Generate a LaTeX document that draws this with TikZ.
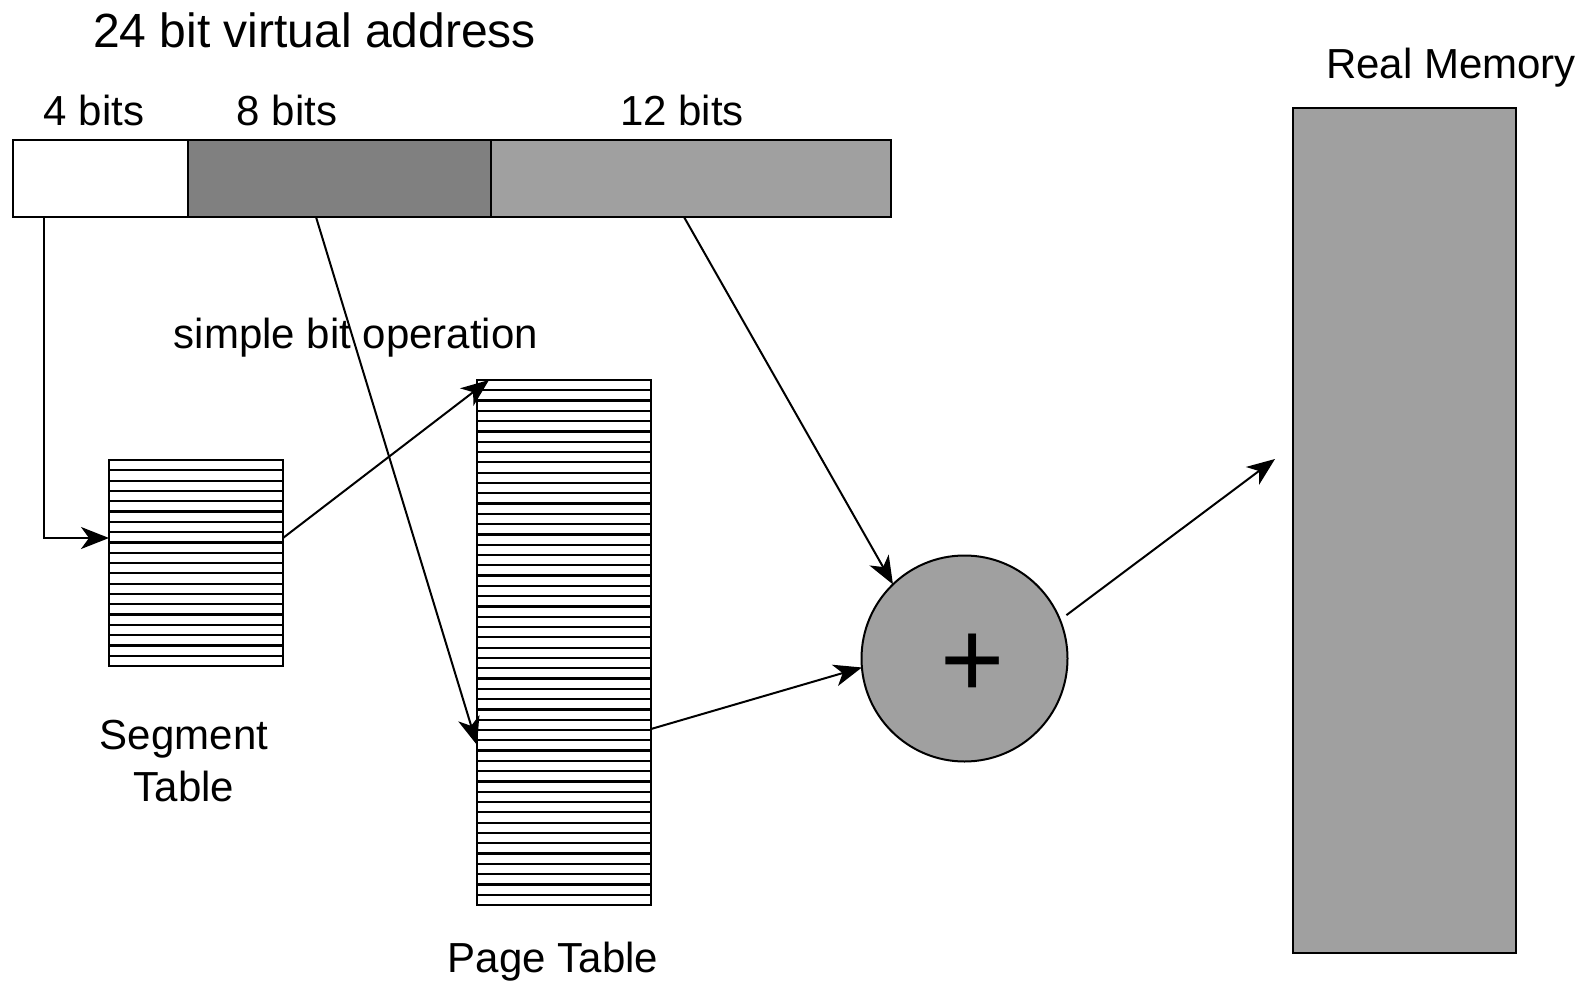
\documentclass[tikz,border=0pt]{standalone}
\usepackage{fontspec}
\setmainfont{Liberation Sans}
\usetikzlibrary{calc,arrows.meta}
\definecolor{darkfill}{RGB}{128,128,128}
\definecolor{lightfill}{RGB}{160,160,160}
\tikzset{
  box/.style={draw=black, line width=1.3pt, rectangle, inner sep=0pt, outer sep=0pt, anchor=north west},
  stripe/.style={line width=1.1pt},
  conn/.style={line width=1pt, -{Stealth[length=14pt, width=11pt, inset=4pt]}},
  lbl/.style={inner sep=0pt, outer sep=0pt, font=\fontsize{21}{25}\selectfont},
}
\begin{document}
\begin{tikzpicture}[x=0.5pt, y=-0.5pt]
\useasboundingbox (0,0) rectangle (1583,984);
% address fields
\node[box, fill=white, minimum width=87.5pt, minimum height=38.5pt] (addr4) at (13,140) {};
\node[box, fill=darkfill, minimum width=151.5pt, minimum height=38.5pt] (addr8) at (188,140) {};
\node[box, fill=lightfill, minimum width=200pt, minimum height=38.5pt] (addr12) at (491,140) {};
% tables
\node[box, fill=white, minimum width=87pt, minimum height=103pt] (seg) at (109,460) {};
\node[box, fill=white, minimum width=87pt, minimum height=262.5pt] (page) at (477,380) {};
\foreach \i in {1,...,19}
  \draw[stripe] ($(seg.north west)!\i/20!(seg.south west)$) -- ($(seg.north east)!\i/20!(seg.south east)$);
\foreach \i in {1,...,50}
  \draw[stripe] ($(page.north west)!\i/51!(page.south west)$) -- ($(page.north east)!\i/51!(page.south east)$);
% adder and memory
\node[circle, draw=black, line width=1pt, fill=lightfill, minimum size=103pt, inner sep=0pt, outer sep=0pt] (adder) at (964.5,658.5) {};
\node[inner sep=0pt, font=\fontsize{55}{60}\selectfont] (plus) at (973,666) {+};
\node[box, fill=lightfill, minimum width=111.5pt, minimum height=422.5pt] (mem) at (1293,108) {};
\coordinate (memin) at ($(mem.north west)+(-18,351)$);
% labels
\node[lbl, font=\fontsize{24}{28}\selectfont, anchor=base west] (title) at (93,47.5) {24 bit virtual address};
\node[lbl, anchor=base] (l4) at (94,126) {4 bits};
\node[lbl, anchor=base] (l8) at (287,126) {8 bits};
\node[lbl, anchor=base] (l12) at (682,126) {12 bits};
\node[lbl, anchor=base] (lmem) at (1451,79) {Real Memory};
\node[lbl, anchor=base] (lop) at (356,348) {simple bit operation};
\node[lbl, align=center] (lseg) at (184,761.5) {Segment\\[1pt]Table};
\node[lbl, anchor=base] (lpage) at (553,972) {Page Table};
% connectors
\draw[conn] ($(addr4.south west)+(31,0)$) |- ($(seg.north west)+(0,78)$);
\draw[conn] ($(seg.north east)+(0,78)$) -- ($(page.north west)+(12,0)$);
\draw[conn] ($(addr8.south west)+(128,0)$) -- ($(page.north west)+(0,365)$);
\draw[conn] ($(addr12.south west)+(193,0)$) -- (adder.134);
\draw[conn] ($(page.north east)+(0,349)$) -- (adder.185);
\draw[conn, shorten <=4pt] (adder.22) -- (memin);
\end{tikzpicture}
\end{document}
